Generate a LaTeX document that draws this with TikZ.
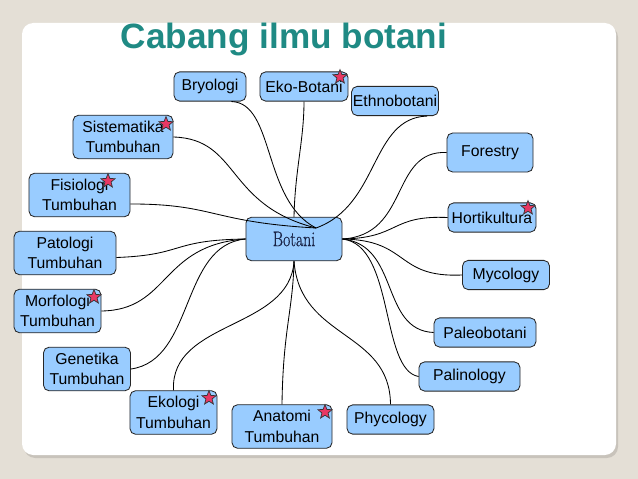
\documentclass[tikz,border=0pt]{standalone}
\usepackage{fontspec}
\setsansfont{Liberation Sans}
\newfontfamily\botanifont[FakeStretch=0.75, FakeBold=0.6]{Latin Modern Roman}
\usetikzlibrary{shapes.geometric, positioning}
\definecolor{pagebg}{RGB}{228,223,214}
\definecolor{panelshade}{RGB}{200,195,187}
\definecolor{titleteal}{RGB}{31,138,132}
\definecolor{boxblue}{RGB}{153,204,255}
\definecolor{starred}{RGB}{232,56,100}
\definecolor{botaniink}{RGB}{25,35,70}

\begin{document}
\begin{tikzpicture}[x=0.025cm, y=-0.025cm,
  topic/.style={draw=black!85, line width=0.6pt, rounded corners=4pt, fill=boxblue, align=center, font=\sffamily\fontsize{11.2}{14.5}\selectfont, minimum width=#1, minimum height=0.73cm, inner sep=1pt},
  tall/.style={minimum height=1.09cm},
  badge/.style={star, star points=5, star point ratio=2.3, fill=starred, draw=black!80, line width=0.5pt, minimum size=0.37cm, inner sep=0pt},
  link/.style={line width=0.6pt},
]

% Page
\useasboundingbox (0,0) rectangle (638,479);
\fill[pagebg] (0,0) rectangle (638,479);
\fill[panelshade, rounded corners=8pt] (24,26) rectangle (618,458);
\fill[white, rounded corners=8pt] (22,23) rectangle (616,455);
\node[font=\sffamily\bfseries\fontsize{25}{28}\selectfont, text=titleteal] (title) at (284,39) {Cabang ilmu botani};

% Topics
\node[topic=2.4cm, tall, font=\botanifont\fontsize{15}{17}\selectfont, text=botaniink] (botani) at (294,239) {Botani};
\node[topic=1.8cm] (bryologi) at (210,86.5) {Bryologi};
\node[topic=2.2cm] (ekobotani) at (304,86.5) {Eko-Botani};
\node[topic=2.15cm] (ethnobotani) at (395,101) {Ethnobotani};
\node[topic=2.5cm, tall] (sistematika) at (123,137) {Sistematika\\Tumbuhan};
\node[topic=2.525cm, tall] (fisiologi) at (79.5,195) {Fisiologi\\Tumbuhan};
\node[topic=2.55cm, tall] (patologi) at (65,253) {Patologi\\Tumbuhan};
\node[topic=2.175cm, tall] (morfologi) at (57.5,311) {Morfologi\\Tumbuhan};
\node[topic=2.175cm, tall] (genetika) at (87,369) {Genetika\\Tumbuhan};
\node[topic=2.175cm, tall] (ekologi) at (173.5,412.5) {Ekologi\\Tumbuhan};
\node[topic=2.5cm, tall] (anatomi) at (282,426.5) {Anatomi\\Tumbuhan};
\node[topic=2.175cm] (phycology) at (390.5,419.5) {Phycology};
\node[topic=2.525cm] (palinology) at (469.5,376.5) {Palinology};
\node[topic=2.55cm] (paleobotani) at (485,332.5) {Paleobotani};
\node[topic=2.175cm] (mycology) at (506,275) {Mycology};
\node[topic=2.2cm] (hortikultura) at (492,217.5) {Hortikultura};
\node[topic=2.15cm, minimum height=0.975cm] (forestry) at (490,152.5) {Forestry};

% Links
\coordinate (hub) at (316,228);
\draw[link] (bryologi.-35) .. controls (275,103) and (262,200) .. (hub);
\draw[link] (ekobotani.south) .. controls (304,140) and (295,170) .. (botani.north);
\draw[link] (ethnobotani.-25) .. controls (370,118) and (380,205) .. (hub);
\draw[link] (sistematika.east) .. controls (240,139) and (225,205) .. (hub);
\draw[link] (fisiologi.-10) .. controls (215,204) and (210,222) .. (hub);
\draw[link] (patologi.-5) .. controls (185,255) and (170,240) .. (botani.west);
\draw[link] (morfologi.east) .. controls (170,310) and (160,245) .. (botani.west);
\draw[link] (genetika.east) .. controls (195,360) and (180,245) .. (botani.west);
\draw[link] (ekologi.north) .. controls (170,320) and (290,330) .. (botani.south);
\draw[link] (anatomi.north) .. controls (283,330) and (293,310) .. (botani.south);
\draw[link] (phycology.north) .. controls (390,330) and (300,340) .. (botani.south);
\draw[link] (forestry.west) .. controls (390,150) and (410,235) .. (botani.east);
\draw[link] (hortikultura.west) .. controls (390,215) and (400,238) .. (botani.east);
\draw[link] (mycology.west) .. controls (395,278) and (410,240) .. (botani.east);
\draw[link] (paleobotani.west) .. controls (380,330) and (400,245) .. (botani.east);
\draw[link] (palinology.west) .. controls (380,370) and (395,245) .. (botani.east);

% Stars
\node[badge] (star1) at (340,77) {};
\node[badge] (star2) at (166,124) {};
\node[badge] (star3) at (108,181) {};
\node[badge] (star4) at (94,297) {};
\node[badge] (star5) at (209,398) {};
\node[badge] (star6) at (325,412) {};
\node[badge] (star7) at (528,208) {};

\end{tikzpicture}
\end{document}
